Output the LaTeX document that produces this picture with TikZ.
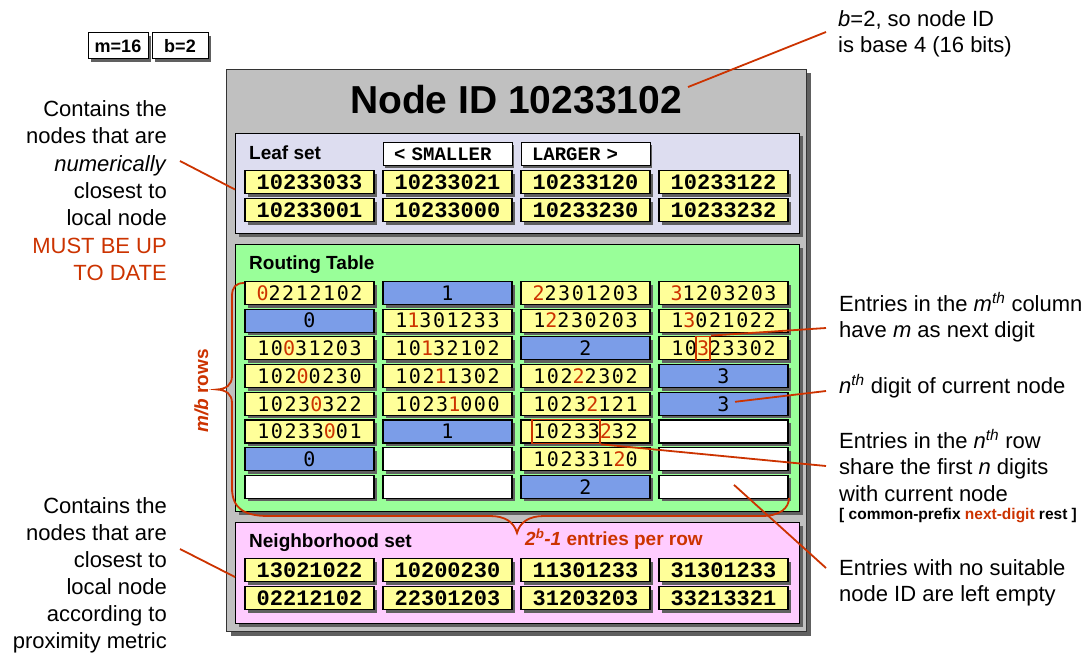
\documentclass[tikz,border=0pt]{standalone}
\usepackage{fontspec}
\setmainfont{Liberation Sans}
\newfontfamily\routefont[LetterSpace=8]{DejaVu Sans Mono}
\newfontfamily\idfont{Liberation Mono}
\usetikzlibrary{shadows,calc}

\definecolor{framegray}{RGB}{192,192,192}
\definecolor{leafbg}{RGB}{221,221,240}
\definecolor{routebg}{RGB}{153,255,153}
\definecolor{neighbg}{RGB}{255,204,255}
\definecolor{idyellow}{RGB}{255,255,153}
\definecolor{digitblue}{RGB}{123,157,232}
\definecolor{notered}{RGB}{204,51,0}
\definecolor{shadowgray}{RGB}{96,96,96}

\newcommand{\rd}[1]{\textcolor{notered}{#1}}

\tikzset{
  shadowthree/.style={drop shadow={shadow xshift=3pt,shadow yshift=-3pt,fill=shadowgray,opacity=1}},
  shadowfour/.style={drop shadow={shadow xshift=4pt,shadow yshift=-4pt,fill=shadowgray,opacity=1}},
  outerframe/.style={draw=black!80,line width=1pt,fill=framegray,inner sep=0pt,anchor=north west,shadowfour},
  panel/.style={draw=black,line width=1pt,inner sep=0pt,anchor=north west,minimum width=564pt,shadowthree},
  cellbox/.style={draw=black,line width=1.1pt,minimum width=129pt,minimum height=23pt,inner sep=0pt,shadowthree},
  rcell/.style={cellbox,fill=idyellow,font=\routefont\fontsize{20}{20}\selectfont},
  bcell/.style={cellbox,fill=digitblue,font=\routefont\fontsize{20}{20}\selectfont},
  ecell/.style={cellbox,fill=white},
  idcell/.style={cellbox,fill=idyellow,font=\idfont\bfseries\fontsize{22}{22}\selectfont},
  tagbox/.style={draw=black,line width=1pt,fill=white,minimum height=23pt,text width=107pt,inner xsep=11pt,inner ysep=0pt,align=left,
    font=\idfont\bfseries\fontsize{19}{19}\selectfont,drop shadow={shadow xshift=2pt,shadow yshift=-2pt,fill=shadowgray,opacity=1}},
  parambox/.style={draw=black,line width=1pt,fill=white,minimum height=26pt,inner sep=0pt,font=\bfseries\fontsize{18}{18}\selectfont,shadowthree},
  paneltitle/.style={anchor=base west,inner sep=0pt,font=\bfseries\fontsize{19}{19}\selectfont},
  notetext/.style={inner sep=0pt,font=\fontsize{22}{22}\selectfont},
  noteleft/.style={notetext,anchor=base east},
  noteright/.style={notetext,anchor=base west},
  noteline/.style={draw=notered,line width=1.8pt},
  markbox/.style={draw=notered,line width=1.6pt,inner sep=0pt,minimum height=24pt},
}

\begin{document}
\begin{tikzpicture}[x=1pt,y=-1pt]
\useasboundingbox (0,0) rectangle (1091,655);
\fill[white] (0,0) rectangle (1091,655);

% parameters
\node[parambox,minimum width=60pt] (pm) at (118,46) {m=16};
\node[parambox,minimum width=56pt] (pb) at (180,46) {b=2};

% node frame and its three tables
\node[outerframe,minimum width=580pt,minimum height=562pt] (outer) at (226,69) {};
\node[anchor=base,inner sep=0pt,font=\bfseries\fontsize{39}{39}\selectfont] (title) at (516,113.5) {Node ID 10233102};

\node[panel,fill=leafbg,minimum height=100pt] (leaf) at (235,133) {};
\node[panel,fill=routebg,minimum height=267pt] (route) at (235,244) {};
\node[panel,fill=neighbg,minimum height=101pt] (neigh) at (235,522) {};

\node[paneltitle] (leaft) at (249,159.5) {Leaf set};
\node[paneltitle] (routet) at (249,269.5) {Routing Table};
\node[paneltitle] (neight) at (249,547.5) {Neighborhood set};

% leaf set
\node[tagbox] (small) at (447.5,154.5) {< SMALLER};
\node[tagbox] (large) at (585.5,154.5) {LARGER >};
\node[idcell] (l11) at (309.5,182.3) {10233033};
\node[idcell] (l12) at (447.5,182.3) {10233021};
\node[idcell] (l13) at (585.5,182.3) {10233120};
\node[idcell] (l14) at (723.5,182.3) {10233122};
\node[idcell] (l21) at (309.5,210) {10233001};
\node[idcell] (l22) at (447.5,210) {10233000};
\node[idcell] (l23) at (585.5,210) {10233230};
\node[idcell] (l24) at (723.5,210) {10233232};

% routing table
\node[rcell] (r01) at (309.5,293) {\rd{0}2212102};
\node[bcell] (r02) at (447.5,293) {1};
\node[rcell] (r03) at (585.5,293) {\rd{2}2301203};
\node[rcell] (r04) at (723.5,293) {\rd{3}1203203};

\node[bcell] (r11) at (309.5,320.7) {0};
\node[rcell] (r12) at (447.5,320.7) {1\rd{1}301233};
\node[rcell] (r13) at (585.5,320.7) {1\rd{2}230203};
\node[rcell] (r14) at (723.5,320.7) {1\rd{3}021022};

\node[rcell] (r21) at (309.5,348.4) {10\rd{0}31203};
\node[rcell] (r22) at (447.5,348.4) {10\rd{1}32102};
\node[bcell] (r23) at (585.5,348.4) {2};
\node[rcell] (r24) at (723.5,348.4) {10\rd{3}23302};

\node[rcell] (r31) at (309.5,376.1) {102\rd{0}0230};
\node[rcell] (r32) at (447.5,376.1) {102\rd{1}1302};
\node[rcell] (r33) at (585.5,376.1) {102\rd{2}2302};
\node[bcell] (r34) at (723.5,376.1) {3};

\node[rcell] (r41) at (309.5,403.8) {1023\rd{0}322};
\node[rcell] (r42) at (447.5,403.8) {1023\rd{1}000};
\node[rcell] (r43) at (585.5,403.8) {1023\rd{2}121};
\node[bcell] (r44) at (723.5,403.8) {3};

\node[rcell] (r51) at (309.5,431.5) {10233\rd{0}01};
\node[bcell] (r52) at (447.5,431.5) {1};
\node[rcell] (r53) at (585.5,431.5) {10233\rd{2}32};
\node[ecell] (r54) at (723.5,431.5) {};

\node[bcell] (r61) at (309.5,459.2) {0};
\node[ecell] (r62) at (447.5,459.2) {};
\node[rcell] (r63) at (585.5,459.2) {102331\rd{2}0};
\node[ecell] (r64) at (723.5,459.2) {};

\node[ecell] (r71) at (309.5,486.9) {};
\node[ecell] (r72) at (447.5,486.9) {};
\node[bcell] (r73) at (585.5,486.9) {2};
\node[ecell] (r74) at (723.5,486.9) {};

% neighborhood set
\node[idcell] (n11) at (309.5,570) {13021022};
\node[idcell] (n12) at (447.5,570) {10200230};
\node[idcell] (n13) at (585.5,570) {11301233};
\node[idcell] (n14) at (723.5,570) {31301233};
\node[idcell] (n21) at (309.5,598) {02212102};
\node[idcell] (n22) at (447.5,598) {22301203};
\node[idcell] (n23) at (585.5,598) {31203203};
\node[idcell] (n24) at (723.5,598) {33213321};

% highlighted digits
\node[markbox,minimum width=14.5pt] (mbox) at (703,348.4) {};
\node[markbox,minimum width=68pt] (rbox) at (566,431.5) {};

% braces for rows and columns
\draw[notered,line width=1.8pt]
  (244,283) .. controls (236,283) and (232,287) .. (232,296)
  -- (232,376)
  .. controls (232,385) and (226,389) .. (217,389.5)
  .. controls (226,390) and (232,394) .. (232,403)
  -- (232,488)
  .. controls (232,508) and (244,516) .. (268,516)
  -- (490,516)
  .. controls (505,516) and (514,522) .. (517,533)
  .. controls (520,522) and (529,516) .. (544,516)
  -- (762,516)
  .. controls (780,516) and (789,508) .. (789,498);
\node[rotate=90,inner sep=0pt,text=notered,font=\bfseries\fontsize{19}{19}\selectfont] (rowsl) at (201.5,391) {\textit{m/b} rows};
\node[anchor=base west,inner sep=0pt,text=notered,font=\bfseries\fontsize{19}{19}\selectfont] (colsl) at (525,545) {\textit{2\textsuperscript{b}-1} entries per row};

% annotations on the left
\node[noteleft] (la1) at (167,116.7) {Contains the};
\node[noteleft] (la2) at (167,144) {nodes that are};
\node[noteleft] (la3) at (167,171.3) {\textit{numerically}};
\node[noteleft] (la4) at (167,198.6) {closest to};
\node[noteleft] (la5) at (167,225.9) {local node};
\node[noteleft,text=notered] (la6) at (167,253.2) {MUST BE UP};
\node[noteleft,text=notered] (la7) at (167,280.5) {TO DATE};

\node[noteleft] (lb1) at (167,513.5) {Contains the};
\node[noteleft] (lb2) at (167,540.5) {nodes that are};
\node[noteleft] (lb3) at (167,567.5) {closest to};
\node[noteleft] (lb4) at (167,594.5) {local node};
\node[noteleft] (lb5) at (167,621.5) {according to};
\node[noteleft] (lb6) at (167,648.5) {proximity metric};

% annotations on the right
\node[noteright] (ra1) at (838,26.5) {\textit{b}=2, so node ID};
\node[noteright] (ra2) at (838,53) {is base 4 (16 bits)};
\node[noteright] (rb1) at (839,311) {Entries in the \textit{m}\textsuperscript{\textit{th}} column};
\node[noteright] (rb2) at (839,337.5) {have \textit{m} as next digit};
\node[noteright] (rc1) at (839,393) {\textit{n}\textsuperscript{\textit{th}} digit of current node};
\node[noteright] (rd1) at (839,448) {Entries in the \textit{n}\textsuperscript{\textit{th}} row};
\node[noteright] (rd2) at (839,474.7) {share the first \textit{n} digits};
\node[noteright] (rd3) at (839,501) {with current node};
\node[anchor=base west,inner sep=0pt,font=\bfseries\fontsize{15.5}{16}\selectfont] (rd4) at (839,519) {[ common-prefix \rd{next-digit} rest ]};
\node[noteright] (re1) at (839,575) {Entries with no suitable};
\node[noteright] (re2) at (839,601.7) {node ID are left empty};

% leader lines
\coordinate (leafnote) at (180,161);
\coordinate (neighnote) at (180,549);
\coordinate (basenote) at (826,32);
\coordinate (colnote) at (826,328);
\coordinate (digitnote) at (826,391);
\coordinate (rownote) at (826,466);
\coordinate (emptynote) at (826,568);

\draw[noteline] ([shift={(6,2)}]title.north east) -- (basenote);
\draw[noteline] (leafnote) -- ([shift={(0,6)}]leaf.west);
\draw[noteline] (neighnote) -- ([shift={(0,4)}]neigh.west);
\draw[noteline] (mbox.north east) -- (colnote);
\draw[noteline] ([shift={(11.5,-2)}]r44.center) -- (digitnote);
\draw[noteline] (rbox.south east) -- (rownote);
\draw[noteline] ([shift={(10.5,-2)}]r74.center) -- (emptynote);
\end{tikzpicture}
\end{document}
